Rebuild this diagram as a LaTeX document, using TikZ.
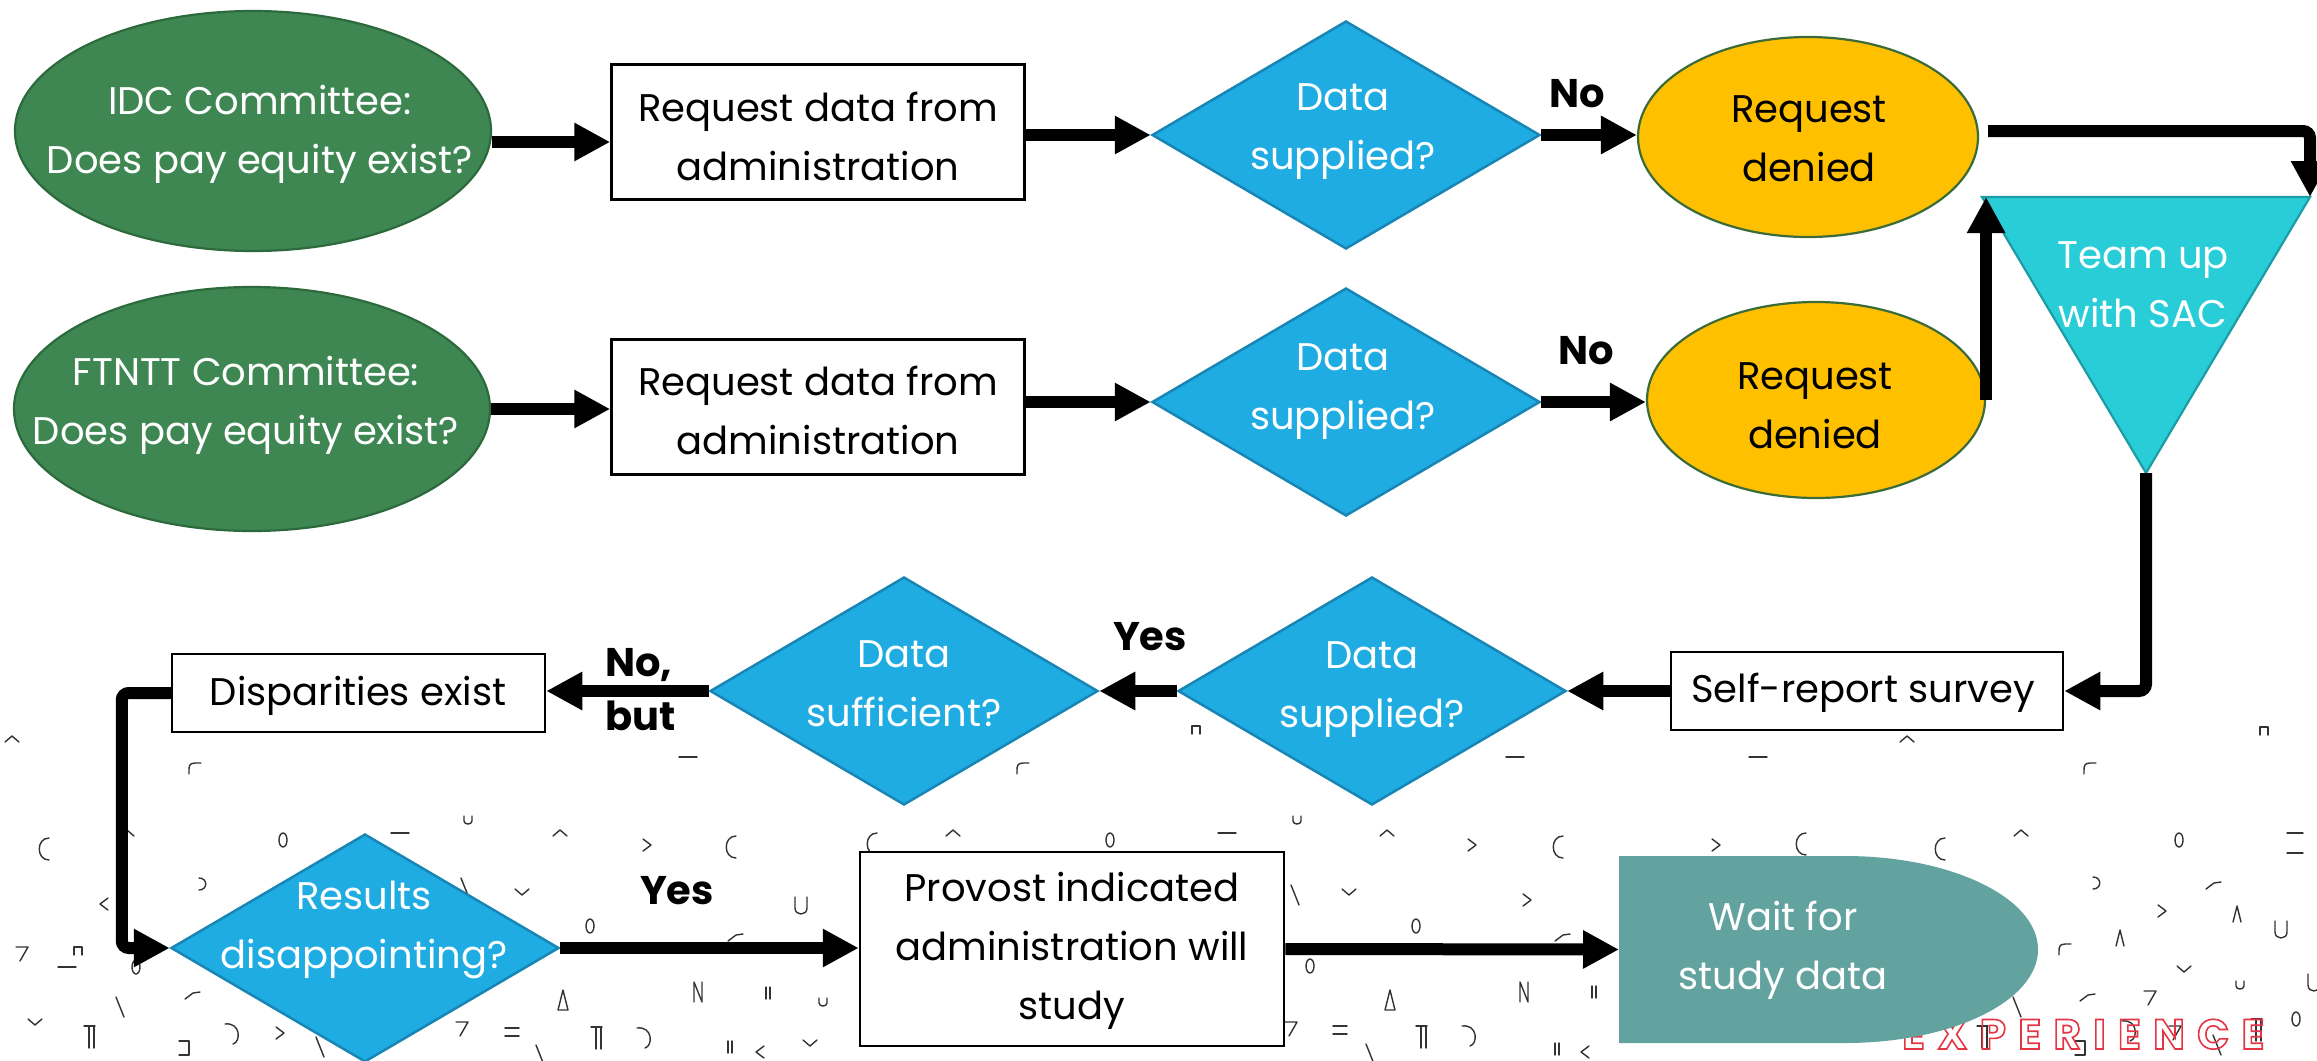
\documentclass[tikz,border=0pt]{standalone}
\usepackage{fontspec}
\setmainfont{Poppins}
\usetikzlibrary{arrows.meta,shapes.geometric}

\definecolor{grfill}{HTML}{3E8753}
\definecolor{grline}{HTML}{2C6A3C}
\definecolor{blfill}{HTML}{1FACE2}
\definecolor{blline}{HTML}{1886B4}
\definecolor{orfill}{HTML}{FFC000}
\definecolor{orline}{HTML}{3B6B38}
\definecolor{tqfill}{HTML}{28CDD7}
\definecolor{tqline}{HTML}{1C9CA5}
\definecolor{tlfill}{HTML}{63A39F}

% outlined (stroke-only) lettering in red
\newcommand\outlineon{\special{pdf:literal direct 1 Tr 1.6 w 0.898 0.204 0.263 RG}}
\newcommand\outlineoff{\special{pdf:literal direct 0 Tr}}

\tikzset{
  mk/.style={draw=black!80, line width=1.4pt, line cap=round, line join=round},
  arr/.style={line width=12pt, -{Triangle[length=36pt,width=36pt]}},
  bendarr/.style={arr, rounded corners=7pt},
  txt/.style={align=center, inner sep=0pt, font=\fontsize{38.5}{59}\selectfont},
  lbl/.style={inner sep=0pt, font=\fontsize{40}{54}\selectfont\bfseries},
  exl/.style={inner sep=0pt, anchor=base west, font=\fontsize{42}{42}\selectfont\bfseries},
  boxnode/.style={draw=black, line width=2.5pt, fill=white, inner sep=0pt},
  oval/.style={ellipse, inner sep=0pt, line width=2.2pt},
  decision/.style={diamond, draw=blline, fill=blfill, line width=2.5pt, inner sep=0pt,
    minimum width=388pt, minimum height=228pt},
  % small scattered background glyphs
  mkcaret/.pic={\draw[mk] (-7,3) -- (0,-3) -- (7,3);},
  mkvee/.pic={\draw[mk] (-7,-3) -- (0,3) -- (7,-3);},
  mkgt/.pic={\draw[mk] (-4,-6) -- (4,0) -- (-4,6);},
  mklt/.pic={\draw[mk] (4,-6) -- (-4,0) -- (4,6);},
  mkC/.pic={\draw[mk] (6,-11) .. controls (-7,-11) and (-7,11) .. (6,11);},
  mkc/.pic={\draw[mk] (6,-5) -- (0,-5) .. controls (-6,-5) and (-6,-1) .. (-6,2) -- (-6,6);},
  mkrc/.pic={\draw[mk] (-4,-6) .. controls (5,-6) and (5,6) .. (-4,6);},
  mkrC/.pic={\draw[mk] (-8,-9) .. controls (8,-11) and (8,9) .. (0,11);},
  mkU/.pic={\draw[mk] (-6,-9) -- (-6,2) .. controls (-6,10) and (6,10) .. (6,2) -- (6,-9);},
  mku/.pic={\draw[mk] (-4,-4) -- (-4,1) .. controls (-4,5) and (4,5) .. (4,1) -- (4,-4);},
  mkO/.pic={\draw[mk] (0,0) ellipse [x radius=4pt, y radius=7pt];},
  mkdash/.pic={\draw[mk] (-9,0) -- (9,0);},
  mkeq/.pic={\draw[mk] (-7,-4) -- (7,-4) (-7,4) -- (7,4);},
  mkeqw/.pic={\draw[mk] (-8,-10) -- (8,-10) (-8,10) -- (8,10);},
  mkbs/.pic={\draw[mk] (-4,-10) -- (4,10);},
  mkslant/.pic={\draw[mk] (-8,4) -- (0,-2) -- (7,-3);},
  mkwedge/.pic={\draw[mk] (-4,8) -- (0,-8) -- (4,8);},
  mkbox/.pic={\draw[mk] (-4,4) -- (-4,-4) -- (4,-4) -- (4,4);},
  mkseven/.pic={\draw[mk] (-6,-6) -- (6,-6) -- (-2,8);},
  mkpipe/.pic={\draw[mk] (-6,-11) -- (5,-11) (-1,-11) -- (-1,11) (4,-11) -- (4,11);},
  mkpp/.pic={\draw[mk] (-2,-6) -- (-2,6) (2,-6) -- (2,6);},
  mkbrk/.pic={\draw[mk] (-5,-7) -- (5,-7) -- (5,7) -- (-5,7);},
  mkdelta/.pic={\draw[mk] (-5,10) -- (0,-10) -- (5,10) -- cycle;},
  mkN/.pic={\draw[mk] (-4,10) -- (-4,-10) -- (4,10) -- (4,-10);},
}

\begin{document}
\begin{tikzpicture}[x=1pt,y=-1pt]
\fill[white] (0,0) rectangle (2317,1060);
\useasboundingbox (0,0) rectangle (2317,1060);

% ---------- background glyph texture ----------
\foreach \x/\y in {12/739,127/833,560/833,953/833,1387/833,1907/739,2021/833} \pic at (\x,\y) {mkcaret};
\foreach \x/\y in {522/892,1349/892,35/1022,810/1043,2184/969} \pic at (\x,\y) {mkvee};
\foreach \x/\y in {647/845,1472/845,1716/845,1527/900,2162/911,280/1033} \pic at (\x,\y) {mkgt};
\foreach \x/\y in {104/904,760/1052,1585/1052} \pic at (\x,\y) {mklt};
\foreach \x/\y in {43/849,730/847,871/844,1557/847,1800/844,1939/849} \pic at (\x,\y) {mkC};
\foreach \x/\y in {195/768,1023/768,2090/768,2065/949} \pic at (\x,\y) {mkc};
\foreach \x/\y in {203/884,2097/883} \pic at (\x,\y) {mkrc};
\foreach \x/\y in {233/1033,645/1037,1470/1035,2130/1030} \pic at (\x,\y) {mkrC};
\foreach \x/\y in {801/906,2281/930,2314/983} \pic at (\x,\y) {mkU};
\foreach \x/\y in {468/820,1297/820,2240/985,823/1002} \pic at (\x,\y) {mku};
\foreach \x/\y in {283/840,1110/840,2179/840,590/926,1416/926,136/967,1310/966,2296/1019} \pic at (\x,\y) {mkO};
\foreach \x/\y in {688/757,1515/757,1758/757,400/833,1227/833,67/967} \pic at (\x,\y) {mkdash};
\pic at (2295,843) {mkeqw};
\foreach \x/\y in {512/1032,1340/1030} \pic at (\x,\y) {mkeq};
\foreach \x/\y in {465/888,1295/895,120/1007,320/1047,540/1055,1370/1054,2017/1007,2217/1045} \pic at (\x,\y) {mkbs};
\foreach \x/\y in {736/937,1563/937,193/995,2214/885,2088/997} \pic at (\x,\y) {mkslant};
\foreach \x/\y in {2237/914,2120/938} \pic at (\x,\y) {mkwedge};
\foreach \x/\y in {1196/730,2264/731,78/951} \pic at (\x,\y) {mkbox};
\foreach \x/\y in {22/953,462/1028,1291/1028,2150/997,2175/1032} \pic at (\x,\y) {mkseven};
\foreach \x/\y in {90/1037,597/1038,1422/1037,1983/1037,2257/1030} \pic at (\x,\y) {mkpipe};
\foreach \x/\y in {768/993,730/1047,1594/992,1557/1049} \pic at (\x,\y) {mkpp};
\foreach \x/\y in {184/1048,2080/1048} \pic at (\x,\y) {mkbrk};
\foreach \x/\y in {563/1000,1390/1000} \pic at (\x,\y) {mkdelta};
\foreach \x/\y in {698/992,1524/992} \pic at (\x,\y) {mkN};

% ---------- outlined lettering, evenly tracked ----------
\node[exl] (ex1) at (1902,1049) {\outlineon E\outlineoff};
\node[exl] (ex2) at ([xshift=12pt]ex1.base east) {\outlineon X\outlineoff};
\node[exl] (ex3) at ([xshift=12pt]ex2.base east) {\outlineon P\outlineoff};
\node[exl] (ex4) at ([xshift=12pt]ex3.base east) {\outlineon E\outlineoff};
\node[exl] (ex5) at ([xshift=12pt]ex4.base east) {\outlineon R\outlineoff};
\node[exl] (ex6) at ([xshift=12pt]ex5.base east) {\outlineon I\outlineoff};
\node[exl] (ex7) at ([xshift=12pt]ex6.base east) {\outlineon E\outlineoff};
\node[exl] (ex8) at ([xshift=12pt]ex7.base east) {\outlineon N\outlineoff};
\node[exl] (ex9) at ([xshift=12pt]ex8.base east) {\outlineon C\outlineoff};
\node[exl] (ex10) at ([xshift=12pt]ex9.base east) {\outlineon E\outlineoff};

% ---------- shapes ----------
\node[oval, draw=grline, fill=grfill, minimum width=476pt, minimum height=240pt] (idc) at (253,131) {};
\node[oval, draw=grline, fill=grfill, minimum width=476pt, minimum height=244pt] (ft) at (252,409) {};
\node[boxnode, minimum width=413pt, minimum height=135pt] (req1) at (818,132) {};
\node[boxnode, minimum width=413pt, minimum height=135pt] (req2) at (818,407) {};
\node[decision] (d1) at (1346,135) {};
\node[decision] (d2) at (1346,402) {};
\node[oval, draw=orline, fill=orfill, minimum width=340pt, minimum height=200pt] (o1) at (1808,137) {};
\node[oval, draw=orline, fill=orfill, minimum width=338pt, minimum height=196pt] (o2) at (1816,400) {};

\coordinate (triL) at (1982,197);
\coordinate (triR) at (2310,197);
\coordinate (triB) at (2146,473);
\draw[draw=tqline, fill=tqfill, line width=2.2pt] (triL) -- (triR) -- (triB) -- cycle;

\node[boxnode, minimum width=392pt, minimum height=78pt] (sr) at (1867,691) {};
\node[decision] (d3) at (1372,691) {};
\node[decision] (d4) at (904,691) {};
\node[boxnode, minimum width=373pt, minimum height=78pt] (disp) at (358.5,693) {};
\node[decision] (d5) at (365,948) {};
\node[boxnode, minimum width=424pt, minimum height=194pt] (prov) at (1072,949) {};

\coordinate (waitW) at (1619,949.5);
\fill[tlfill] (1619,856) -- (1845,856)
  arc[start angle=90, end angle=-90, x radius=193pt, y radius=93.5pt]
  -- (1619,1043) -- cycle;

% ---------- texts ----------
\node[txt, text=white] (idct) at (260,134) {IDC Committee:\\Does pay equity exist?};
\node[txt, text=white] (ftt) at (246,405) {FTNTT Committee:\\Does pay equity exist?};
\node[txt] (req1t) at (818,136) {Request data from\\administration};
\node[txt] (req2t) at (818,410) {Request data from\\administration};
\node[txt, text=white] (d1t) at (1343,132) {Data\\supplied?};
\node[txt, text=white] (d2t) at (1343,392) {Data\\supplied?};
\node[txt] (o1t) at (1809,139) {Request\\denied};
\node[txt] (o2t) at (1815,406) {Request\\denied};
\node[txt, text=white] (team) at (2143,285) {Team up\\with SAC};
\node[txt] (srt) at (1863,693) {Self-report survey};
\node[txt, text=white] (d3t) at (1372,690) {Data\\supplied?};
\node[txt, text=white] (d4t) at (904,684) {Data\\sufficient?};
\node[txt] (dispt) at (358,696) {Disparities exist};
\node[txt, text=white] (d5t) at (364,930) {Results\\disappointing?};
\node[txt] (provt) at (1072,951) {Provost indicated\\administration will\\study};
\node[txt, text=white] (wait) at (1783,950) {Wait for\\study data};

\node[lbl] (no1) at (1577,94) {No};
\node[lbl] (no2) at (1586,351) {No};
\node[lbl] (yes1) at (1150,637) {Yes};
\node[lbl] (yes2) at (677,891) {Yes};
\node[lbl, align=left, anchor=west] (nobut) at (605,690) {No,\\but};

% ---------- connectors ----------
\draw[arr] ([yshift=-11pt]idc.east) -- ([yshift=-11pt]idc.east -| req1.west);
\draw[arr] (req1.east |- d1.west) -- (d1.west);
\draw[arr] (d1.east) -- (d1.east -| o1.west);
\draw[bendarr] ([xshift=9pt,yshift=6pt]o1.east) -| (triR);
\draw[arr] (ft.east) -- (ft.east -| req2.west);
\draw[arr] (req2.east |- d2.west) -- (d2.west);
\draw[arr] (d2.east) -- (d2.east -| o2.west);
\draw[arr] (o2.east) -- (o2.east |- triL);
\draw[bendarr] (triB) |- (sr.east);
\draw[arr] (sr.west) -- (d3.east);
\draw[arr] (d3.west) -- (d4.east);
\draw[arr] (d4.west) -- (d4.west -| disp.east);
\draw[bendarr] (disp.west) -- ([xshift=-49pt]disp.west) |- (d5.west);
\draw[arr] (d5.east) -- (d5.east -| prov.west);
\draw[arr] (prov.east) -- (waitW);
\end{tikzpicture}
\end{document}
